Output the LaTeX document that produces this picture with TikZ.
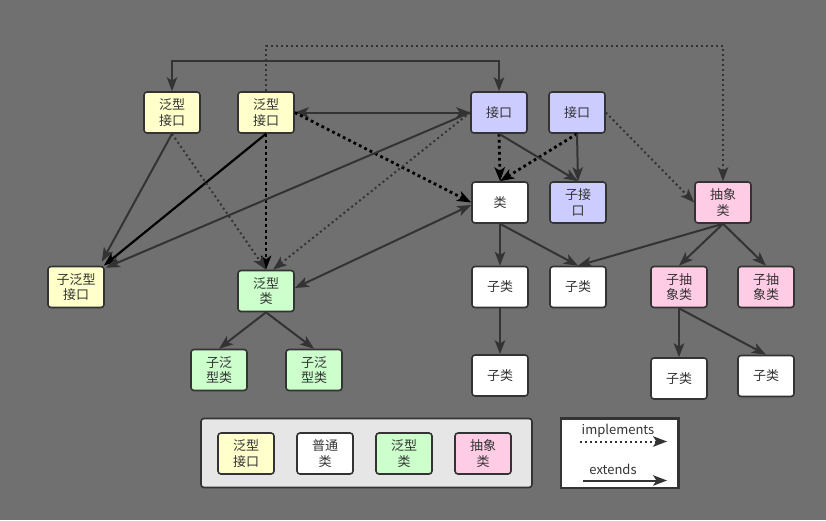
\documentclass[tikz,border=0pt]{standalone}
\usepackage{fontspec}
\setmainfont{Noto Sans CJK SC}
\usetikzlibrary{arrows.meta,calc}
\definecolor{bg}{HTML}{707070}
\definecolor{edge}{HTML}{333333}
\definecolor{ink}{HTML}{333333}
\definecolor{gif}{HTML}{FFFFCC}
\definecolor{itf}{HTML}{CCCCFF}
\definecolor{gcl}{HTML}{CCFFCC}
\definecolor{abs}{HTML}{FFCCE6}
\definecolor{legbg}{HTML}{E6E6E6}
\tikzset{
  box/.style={draw=edge, line width=1.6pt, rounded corners=3pt,
    minimum width=56pt, minimum height=41pt, inner sep=1pt,
    align=center, text=ink, font=\fontsize{13}{15.5}\selectfont},
  gifbox/.style={box, fill=gif},
  itfbox/.style={box, fill=itf},
  clsbox/.style={box, fill=white},
  gclbox/.style={box, fill=gcl},
  absbox/.style={box, fill=abs},
  tip/.style={-{Stealth[length=14pt,width=10.5pt,inset=3.5pt]}},
  dtip/.style={{Stealth[length=14pt,width=10.5pt,inset=3.5pt]}-{Stealth[length=14pt,width=10.5pt,inset=3.5pt]}},
  ext/.style={draw=edge, line width=2pt, tip},
  extb/.style={draw=black, line width=2.2pt, tip},
  impl/.style={draw=edge, line width=2pt, dash pattern=on 2pt off 3pt, tip},
  implb/.style={draw=black, line width=2.8pt, dash pattern=on 2.8pt off 3.2pt, tip},
}
\begin{document}
\begin{tikzpicture}[x=1pt,y=-1pt]
\fill[bg] (0,0) rectangle (826,520);
\useasboundingbox (0,0) rectangle (826,520);

% legend panels
\draw[draw=edge, line width=1.6pt, fill=legbg, rounded corners=3pt] (201,418.5) rectangle (532,487.5);
\draw[draw=edge, line width=2.2pt, fill=white] (561,418.5) rectangle (678.5,488);

% type nodes
\node[gifbox] (A1) at (172,112.5) {泛型\\接口};
\node[gifbox] (A2) at (266,112.5) {泛型\\接口};
\node[gifbox] (SG) at (76,287) {子泛型\\接口};
\node[gclbox] (G) at (266,291) {泛型\\类};
\node[itfbox] (I1) at (499,112.5) {接口};
\node[itfbox] (I2) at (577,112.5) {接口};
\node[clsbox] (C) at (500,202.5) {类};
\node[itfbox] (SI) at (578,202.5) {子接\\口};
\node[absbox] (AC) at (723,202.5) {抽象\\类};
\node[clsbox] (S1) at (500,287) {子类};
\node[clsbox] (S2) at (578,287) {子类};
\node[absbox] (AB1) at (679,287) {子抽\\象类};
\node[absbox] (AB2) at (766,287) {子抽\\象类};
\node[gclbox] (G1) at (219,370) {子泛\\型类};
\node[gclbox] (G2) at (314,370) {子泛\\型类};
\node[clsbox] (S3) at (500,375.5) {子类};
\node[clsbox] (S4) at (679,378.5) {子类};
\node[clsbox] (S5) at (766,376) {子类};

% legend entries
\node[gifbox] (L1) at (246,453.5) {泛型\\接口};
\node[clsbox] (L2) at (325,453.5) {普通\\类};
\node[gclbox] (L3) at (404,453.5) {泛型\\类};
\node[absbox] (L4) at (483,453.5) {抽象\\类};

\node[text=ink, font=\fontsize{13}{15}\selectfont, inner sep=0pt] (Ti) at (618,431) {implements};
\node[text=ink, font=\fontsize{13}{15}\selectfont, inner sep=0pt] (Te) at (613,469.5) {extends};
\coordinate (ia) at (580,441.5);
\coordinate (ib) at (667,441.5);
\coordinate (ea) at (583,480.5);
\coordinate (eb) at (667,480.5);
\draw[impl] (ia) -- (ib);
\draw[ext] (ea) -- (eb);

% top routed connectors
\draw[ext, dtip] (I1.north) -- ++(0,-30) -| (A1.north);
\draw[impl] (A2.north) -- ++(0,-45) -| (AC.north);

% generic interfaces and classes
\draw[ext, dtip] (I1.west) -- (A2.east);
\draw[implb] (A2.east) -- (C.west);
\draw[implb] (A2.south) -- (G.north);
\draw[extb] (A2.south) -- ([xshift=-1pt]SG.north east);
\draw[ext] (A1.south) -- ([xshift=-3pt,yshift=4pt]SG.north east);
\draw[impl] (A1.south) -- (G.north);
\draw[ext] (I1.west) -- ([xshift=1pt,yshift=-2pt]SG.north east);
\draw[impl] (I1.west) -- ([xshift=7pt]G.north);
\draw[ext, dtip] ([yshift=3pt]G.east) -- ([yshift=-2.5pt]C.west);
\draw[ext] (G.south) -- (G1.north);
\draw[ext] (G.south) -- (G2.north);

% interfaces and classes
\draw[implb] (I1.south) -- (C.north);
\draw[implb] (I2.south) -- (C.north);
\draw[ext] (I1.south) -- (SI.north);
\draw[ext] (I2.south) -- (SI.north);
\draw[impl] (I2.east) -- (AC.west);
\draw[ext] (C.south) -- (S1.north);
\draw[ext] (C.south) -- (S2.north);
\draw[ext] (AC.south) -- (S2.north);
\draw[ext] (AC.south) -- (AB1.north);
\draw[ext] (AC.south) -- (AB2.north);
\draw[ext] (S1.south) -- (S3.north);
\draw[ext] (AB1.south) -- (S4.north);
\draw[ext] (AB1.south) -- (S5.north);
\end{tikzpicture}
\end{document}
